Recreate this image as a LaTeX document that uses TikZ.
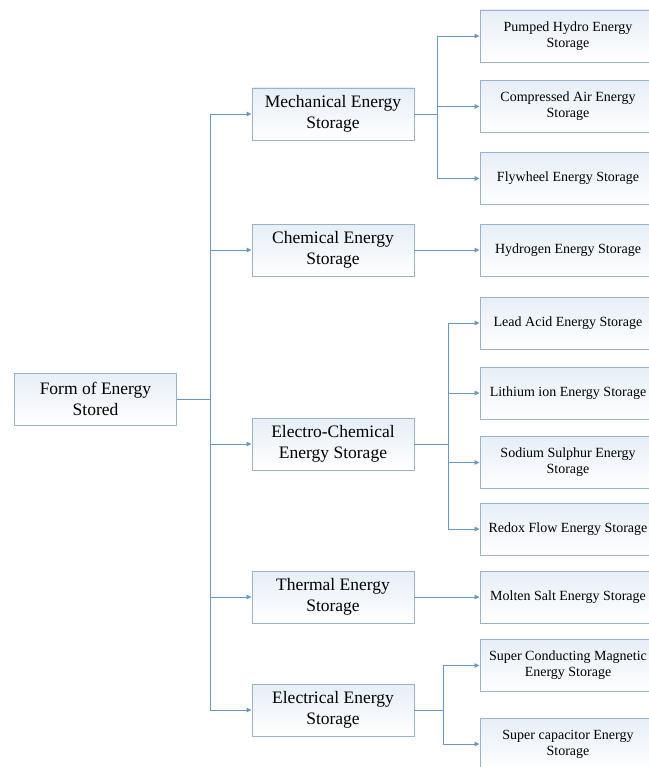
\documentclass[tikz,border=0pt]{standalone}
\usepackage{fontspec}
\setmainfont{Liberation Serif}
\usetikzlibrary{arrows.meta, positioning}
\definecolor{storeline}{HTML}{6A97C0}
\definecolor{storeedge}{HTML}{9CB2C8}
\definecolor{storefill}{HTML}{E6EEF7}
\tikzset{
  mainbox/.style={draw=storeedge, line width=0.9pt, top color=storefill, bottom color=white,
    minimum width=162pt, minimum height=52pt, align=center, inner sep=0pt,
    font=\fontsize{17.5}{21.5}\selectfont},
  subbox/.style={mainbox, minimum width=176pt, font=\fontsize{14}{16}\selectfont},
  link/.style={draw=storeline, line width=0.9pt},
  feed/.style={link, -{Triangle[length=5pt, width=4.5pt]}}
}
\begin{document}
\begin{tikzpicture}[x=1pt, y=-1pt]
  \useasboundingbox (0,0) rectangle (648,767);
  % root
  \node[mainbox] (form) at (95.5,399) {Form of Energy\\Stored};
  % forms of storage
  \foreach \nm/\yy/\txt in {
      mech/114/{Mechanical Energy\\Storage},
      chem/250/{Chemical Energy\\Storage},
      elch/444/{Electro-Chemical\\Energy Storage},
      therm/597/{Thermal Energy\\Storage},
      elec/710/{Electrical Energy\\Storage}}
  {
    \node[mainbox] (\nm) at (333,\yy) {\txt};
  }
  % technologies
  \foreach \nm/\yy/\txt in {
      pump/36/{Pumped Hydro Energy\\Storage},
      comp/106.5/{Compressed Air Energy\\Storage},
      fly/178.5/{Flywheel Energy Storage},
      hyd/250/{Hydrogen Energy Storage},
      lead/323/{Lead Acid Energy Storage},
      lith/393/{Lithium ion Energy Storage},
      sod/462.5/{Sodium Sulphur Energy\\Storage},
      redox/529/{Redox Flow Energy Storage},
      molten/597/{Molten Salt Energy Storage},
      smes/665.5/{Super Conducting Magnetic\\Energy Storage},
      scap/744/{Super capacitor Energy\\Storage}}
  {
    \node[subbox] (\nm) at (568,\yy) {\txt};
  }
  % main spine
  \coordinate (spine) at (210,399);
  \draw[link] (form.east) -- (spine);
  \draw[link] (spine |- mech.west) -- (spine |- elec.west);
  \foreach \nm in {mech,chem,elch,therm,elec}
    \draw[feed] (spine |- \nm.west) -- (\nm.west);
  % forks
  \coordinate (mechfork) at (437,114);
  \coordinate (elchfork) at (448,444);
  \coordinate (elecfork) at (443,710);
  \draw[link] (mech.east) -- (mechfork);
  \draw[link] (mechfork |- pump.west) -- (mechfork |- fly.west);
  \foreach \nm in {pump,comp,fly}
    \draw[feed] (mechfork |- \nm.west) -- (\nm.west);
  \draw[link] (elch.east) -- (elchfork);
  \draw[link] (elchfork |- lead.west) -- (elchfork |- redox.west);
  \foreach \nm in {lead,lith,sod,redox}
    \draw[feed] (elchfork |- \nm.west) -- (\nm.west);
  \draw[link] (elec.east) -- (elecfork);
  \draw[link] (elecfork |- smes.west) -- (elecfork |- scap.west);
  \foreach \nm in {smes,scap}
    \draw[feed] (elecfork |- \nm.west) -- (\nm.west);
  \draw[feed] (chem.east) -- (hyd.west);
  \draw[feed] (therm.east) -- (molten.west);
\end{tikzpicture}
\end{document}
